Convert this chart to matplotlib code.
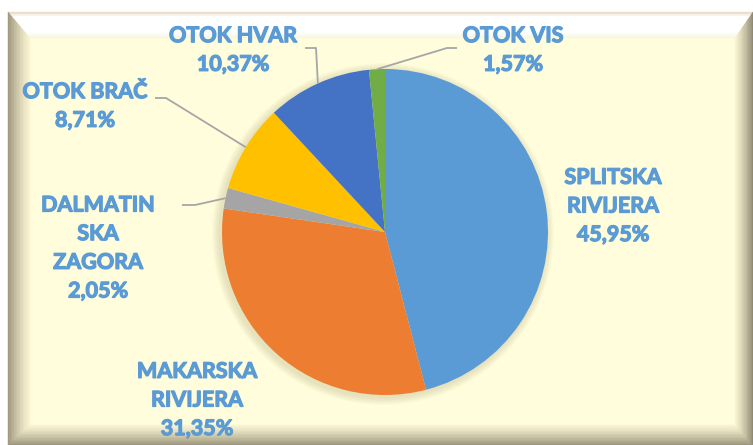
import numpy as np
import matplotlib.pyplot as plt
import matplotlib.patheffects as pe
from matplotlib.patches import Polygon, Circle

# data
regions = ["SPLITSKA\nRIVIJERA", "MAKARSKA\nRIVIJERA", "DALMATIN\nSKA\nZAGORA",
           "OTOK BRAČ", "OTOK HVAR", "OTOK VIS"]
shares = [45.95, 31.35, 2.05, 8.71, 10.37, 1.57]
colors = ["#5B9BD5", "#ED7D31", "#A5A5A5", "#FFC000", "#4472C4", "#70AD47"]

W, H = 753, 445
fig = plt.figure(figsize=(W / 100, H / 100), dpi=100)
ax = fig.add_axes([0, 0, 1, 1])
ax.set_xlim(0, W)
ax.set_ylim(0, H)
ax.axis("off")
fig.patch.set_facecolor("white")


def fy(y):
    return H - y


def mix(c1, c2, t):
    c1 = np.array(c1)
    c2 = np.array(c2)
    return tuple(c1 + (c2 - c1) * t)


# bevelled frame
x0, y0, x1, y1 = 8, 12, 753, 445
ix0, iy0, ix1, iy1 = 30, 38, 735, 425
cream = (1.0, 0.992, 0.86)
ax.add_patch(Polygon([(ix0, fy(iy0)), (ix1, fy(iy0)), (ix1, fy(iy1)), (ix0, fy(iy1))],
                     closed=True, facecolor=cream, edgecolor="none", zorder=0))

n = 14
sides = {
    "left": ((0.98, 0.96, 0.82), (0.62, 0.58, 0.48)),
    "right": ((0.98, 0.96, 0.82), (0.55, 0.52, 0.43)),
    "bottom": ((0.98, 0.96, 0.82), (0.6, 0.57, 0.47)),
}


def rect(t):
    return (ix0 + (x0 - ix0) * t, iy0 + (y0 - iy0) * t,
            ix1 + (x1 - ix1) * t, iy1 + (y1 - iy1) * t)


for k in range(n):
    a = k / n
    b = (k + 1) / n
    ra, rb = rect(a), rect(b)
    tm = (a + b) / 2
    quads = {
        "top": [(ra[0], ra[1]), (ra[2], ra[1]), (rb[2], rb[1]), (rb[0], rb[1])],
        "bottom": [(ra[0], ra[3]), (ra[2], ra[3]), (rb[2], rb[3]), (rb[0], rb[3])],
        "left": [(ra[0], ra[1]), (ra[0], ra[3]), (rb[0], rb[3]), (rb[0], rb[1])],
        "right": [(ra[2], ra[1]), (ra[2], ra[3]), (rb[2], rb[3]), (rb[2], rb[1])],
    }
    for side, pts in quads.items():
        if side == "top":
            col = mix((0.97, 0.96, 0.86), (1.0, 1.0, 1.0), min(1, tm * 4))
            if tm > 0.85:
                col = mix((1, 1, 1), (0.88, 0.84, 0.72), (tm - 0.85) / 0.15)
        else:
            col = mix(sides[side][0], sides[side][1], tm ** 1.3)
        ax.add_patch(Polygon([(p[0], fy(p[1])) for p in pts], closed=True,
                             facecolor=col, edgecolor=col, linewidth=0.3, zorder=1))

# pie
cx, cy, r = 385, 232, 163
for s in range(6, 0, -1):
    ax.add_patch(Circle((cx - 2, fy(cy + 2)), r + s * 1.3, facecolor=(0.55, 0.5, 0.3),
                        alpha=0.035, edgecolor="none", zorder=2))
wedges, _ = ax.pie(shares, colors=colors, startangle=90, counterclock=False,
                   radius=r, center=(cx, fy(cy)), wedgeprops=dict(linewidth=0),
                   frame=True)
for w in wedges:
    w.set_zorder(3)
ax.set_xlim(0, W)
ax.set_ylim(0, H)
ax.set_aspect("auto")
ax.axis("off")

# labels (stroke makes the bold face a bit heavier, closer to the original)
lab_font = dict(family=["Lato", "DejaVu Sans"], fontweight="bold", fontsize=15.5,
                color="#5B9BD5", ha="center", va="center", linespacing=1.45)
label_pos = [(613, 206), (197, 400), (98, 248), (85, 106), (233, 50), (513, 50)]
for name, val, (lx, ly) in zip(regions, shares, label_pos):
    txt = name + "\n" + ("%.2f" % val).replace(".", ",") + "%"
    ax.text(lx, fy(ly), txt, zorder=5,
            path_effects=[pe.withStroke(linewidth=0.9, foreground="#5B9BD5")],
            **lab_font)

# leader lines for the small / upper slices
elbows = {2: [(182, 205), (195, 205)], 3: [(155, 98), (166, 98)],
          4: [(305, 48), (316, 48)], 5: [(457, 48), (447, 48)]}
cum = 0
for i, val in enumerate(shares):
    mid = 90 - (cum + val / 2) * 3.6
    cum += val
    if i not in elbows:
        continue
    ex = cx + r * np.cos(np.radians(mid))
    ey = cy - r * np.sin(np.radians(mid))
    pts = elbows[i] + [(ex, ey)]
    ax.plot([p[0] for p in pts], [fy(p[1]) for p in pts], color="#A6A6A6",
            linewidth=1.3, zorder=4, solid_capstyle="butt")

fig.savefig("out.png", dpi=100)
